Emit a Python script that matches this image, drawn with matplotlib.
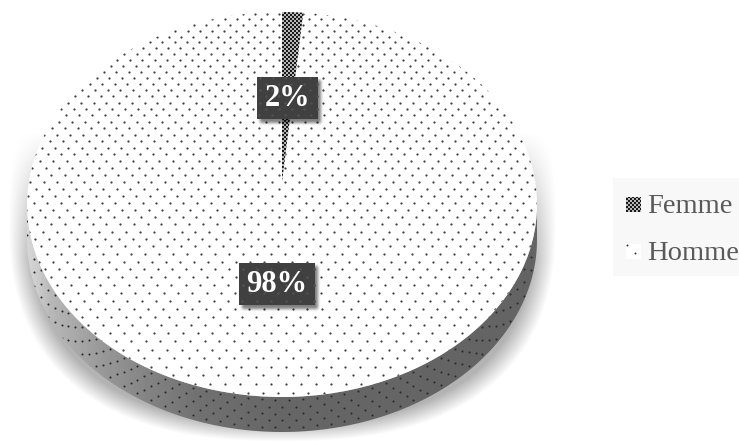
import numpy as np
import matplotlib
matplotlib.use('Agg')
import matplotlib.pyplot as plt
from matplotlib.patches import Rectangle, PathPatch
from matplotlib.path import Path
from matplotlib.transforms import Affine2D

categories = ['Femme', 'Homme']
values = [1.5, 98.5]
pct_labels = ['2%', '98%']

W, H = 739, 441
serif = ['Liberation Serif', 'DejaVu Serif']

# the pie top is a disc seen in perspective: centre at y=182, rim from y=12 to y=397
cx, top_y, mid_y, bot_y = 282, 12, 182, 397
rx = 255
depth = 35
persp = (top_y + bot_y - 2 * mid_y) / (bot_y - top_y)
slope = top_y * (1 + persp) - mid_y
kx = rx * np.sqrt(1 - persp ** 2)


def project(u, v):
    w = 1 + persp * v
    return cx + kx * u / w, (slope * v + mid_y) / w


def box_blur(a, n, passes=3):
    kernel = np.ones(n) / n
    for _ in range(passes):
        a = np.apply_along_axis(lambda r: np.convolve(r, kernel, mode='same'), 0, a)
        a = np.apply_along_axis(lambda r: np.convolve(r, kernel, mode='same'), 1, a)
    return a


def soft_shadow(mask, n, alpha):
    pad = n * 3
    padded = np.pad(mask.astype(float), pad, mode='edge')
    a = box_blur(padded, n)[pad:-pad, pad:-pad] * alpha
    rgba = np.zeros(a.shape + (4,))
    rgba[..., 3] = a
    return rgba


def reset(ax):
    ax.set_xlim(0, W)
    ax.set_ylim(H, 0)


fig = plt.figure(figsize=(W / 100, H / 100), dpi=100)

back = fig.add_axes([0, 0, 1, 1], zorder=0)
back.axis('off')
front = fig.add_axes([0, 0, 1, 1], zorder=2)
front.axis('off')
front.patch.set_alpha(0)
reset(back)
reset(front)

# shadow under the pie, fades out going up
yy, xx = np.mgrid[0:H, 0:W]
shadow_r = (np.abs((xx - cx) / 274) ** 2.5 + np.abs((yy - 216) / 225) ** 2.5) ** 0.4
shadow = np.zeros((H, W, 4))
shadow[..., 3] = 0.3 * np.clip((1 - shadow_r) / 0.08, 0, 1) * np.clip((yy - 130) / 130, 0, 1)
back.imshow(shadow, extent=(0, W, H, 0), aspect='auto', zorder=1)
reset(back)

# wedges come from pie, then get put through the perspective
helper = fig.add_axes([0, 0, 0.1, 0.1])
wedges, _ = helper.pie(values, startangle=90, counterclock=False, radius=1)
top_patches = []
for wedge in wedges:
    unit = wedge.get_patch_transform().transform_path(wedge.get_path())
    poly = unit.transformed(Affine2D().scale(400)).to_polygons()[0] / 400
    px, py = project(poly[:, 0], poly[:, 1])
    patch = PathPatch(Path(np.column_stack([px, py]), closed=True), fc='white', ec='none',
                      transform=front.transData, zorder=1)
    front.add_patch(patch)
    top_patches.append(patch)
helper.remove()
reset(front)

# side band, the lower half of the rim pushed down
ellipse_mid = (top_y + bot_y) / 2
ry = (bot_y - top_y) / 2
t = np.linspace(0, np.pi, 200)
top_edge = np.column_stack([cx + rx * np.cos(t), ellipse_mid + ry * np.sin(t)])
low_edge = np.column_stack([cx + rx * np.cos(t[::-1]), ellipse_mid + depth + ry * np.sin(t[::-1])])
side_path = Path(np.vstack([top_edge, low_edge, top_edge[:1]]), closed=True)
side_patch = PathPatch(side_path, transform=back.transData, fc='none', ec='none')
back.add_patch(side_patch)

grad_x = np.array([27, 37, 50, 100, 150, 200, 280, 537])
grad_v = np.array([0.84, 0.80, 0.72, 0.60, 0.51, 0.44, 0.40, 0.39])
grad = np.interp(np.arange(W), grad_x, grad_v)[None, :]
side_img = back.imshow(grad, cmap='gray', vmin=0, vmax=1, extent=(0, W, H, 0),
                       aspect='auto', zorder=3)
side_img.set_clip_path(side_patch)
reset(back)

# dots on the side follow the curve of the rim
side_x, side_y = [], []
for k in range(0, 6):
    xs = np.arange(27 + (k % 2) * 6.9, 537, 13.8)
    side_x.append(xs)
    side_y.append(ellipse_mid + ry * np.sqrt(np.clip(1 - ((xs - cx) / rx) ** 2, 0, 1)) + 3 + k * 6.8)
side_dots = back.scatter(np.concatenate(side_x), np.concatenate(side_y), s=2.2, color='#2a2a2a',
                         linewidths=0, zorder=4)
side_dots.set_clip_path(side_patch)

# checker pattern on the small slice
check = ((xx // 2 + yy // 2) % 2) * 0.62 + 0.1
check_img = front.imshow(check, cmap='gray', vmin=0, vmax=1, extent=(0, W, H, 0),
                         aspect='auto', interpolation='nearest', zorder=2)
check_img.set_clip_path(top_patches[0])
reset(front)

# dot pattern, spaced evenly on the disc so it tightens towards the back
dot_x, dot_y = [], []
for row, v in enumerate(np.arange(-1.02, 1.02, 0.0365)):
    u = np.arange(-1.1 + (row % 2) * 0.0265, 1.1, 0.053)
    xs, ys = project(u, np.full(u.shape, v))
    dot_x.append(xs)
    dot_y.append(ys)
dot_x = np.concatenate(dot_x)
dot_y = np.concatenate(dot_y)
top_dots = front.scatter(dot_x, dot_y, s=2.6, color='#404040', linewidths=0, zorder=3)
top_dots.set_clip_path(top_patches[1])

# data labels
label_boxes = [(257, 77, 61, 42), (239, 263, 76, 42)]
for text, (bx, by, bw, bh) in zip(pct_labels, label_boxes):
    mask = (xx > bx + 2) & (xx < bx + bw + 3) & (yy > by + 2) & (yy < by + bh + 4)
    front.imshow(soft_shadow(mask, 3, 0.5), extent=(0, W, H, 0), aspect='auto', zorder=4)
    box = Rectangle((bx, by), bw, bh, fc='#404040', ec='none', zorder=5)
    front.add_patch(box)
    box_dots = front.scatter(dot_x, dot_y, s=3, color='#525252', linewidths=0, zorder=6)
    box_dots.set_clip_path(box)
    front.text(bx + bw / 2, by + bh / 2 + 0.5, text, color='white', fontsize=22, fontweight='bold',
               family=serif, ha='center', va='center', zorder=7)
reset(front)

# legend
front.add_patch(Rectangle((613, 178), 126, 98, fc='#f8f8f8', ec='none', zorder=1))
swatch_y = [197, 244]
text_y = [213, 260]
for i, name in enumerate(categories):
    swatch = Rectangle((626, swatch_y[i]), 15, 15, fc='white', ec='none', zorder=2)
    front.add_patch(swatch)
    if i == 0:
        legend_check = front.imshow(check, cmap='gray', vmin=0, vmax=1, extent=(0, W, H, 0),
                                    aspect='auto', interpolation='nearest', zorder=3)
        legend_check.set_clip_path(swatch)
    else:
        front.scatter([627, 635], [245, 253], s=2, color='#333333', linewidths=0, zorder=3)
    front.text(647, text_y[i], name, color='#595959', fontsize=20.5, family=serif,
               ha='left', va='baseline', zorder=3)
reset(front)

fig.savefig('out.png', dpi=100, facecolor='white')
